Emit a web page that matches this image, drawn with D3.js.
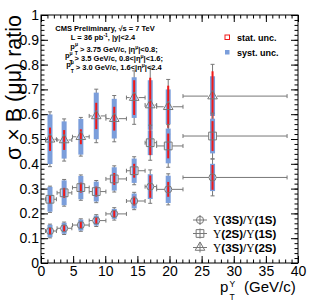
<!DOCTYPE html>
<html>
<head>
<meta charset="utf-8">
<script src="https://cdn.jsdelivr.net/npm/d3@7"></script>
<style>
body { margin: 0; background: #fff; }
svg { display: block; font-family: "Liberation Sans", Arial, sans-serif; }
</style>
</head>
<body>
<script>
// pT bins (GeV/c): marker position and bin edges
const ptCenter = [1.4, 3.6, 6.2, 8.6, 11.4, 14.5, 17.0, 19.8, 26.7];
const ptLow    = [0.7, 2.5, 4.9, 7.5, 10.1, 13.3, 16.2, 18.0, 22.1];
const ptHigh   = [2.4, 4.8, 7.5, 10.1, 13.3, 16.2, 18.0, 22.1, 38.3];

// Y(3S)/Y(1S)
const ratio31 = [0.129, 0.140, 0.153, 0.171, 0.198, 0.250, 0.308, 0.297, 0.345];
const stat31  = [0.012, 0.012, 0.012, 0.013, 0.015, 0.018, 0.045, 0.030, 0.050];
const syst31  = [0.025, 0.022, 0.022, 0.020, 0.020, 0.030, 0.050, 0.055, 0.055];
// Y(2S)/Y(1S)
const ratio21 = [0.257, 0.283, 0.304, 0.288, 0.339, 0.372, 0.485, 0.472, 0.512];
const stat21  = [0.017, 0.020, 0.020, 0.020, 0.024, 0.028, 0.050, 0.050, 0.060];
const syst21  = [0.050, 0.050, 0.047, 0.040, 0.047, 0.049, 0.050, 0.070, 0.070];
// Y(3S)/Y(2S)
const ratio32 = [0.499, 0.496, 0.509, 0.593, 0.582, 0.667, 0.637, 0.630, 0.673];
const stat32  = [0.047, 0.040, 0.030, 0.053, 0.048, 0.070, 0.110, 0.085, 0.100];
const syst32  = [0.100, 0.075, 0.072, 0.094, 0.080, 0.082, 0.100, 0.070, 0.080];

const xTicks = [0, 5, 10, 15, 20, 25, 30, 35, 40];
const yTicks = [0, 0.1, 0.2, 0.3, 0.4, 0.5, 0.6, 0.7, 0.8, 0.9, 1];

const W = 316, H = 303;
const L = 41, R = 298, T = 15, B = 263;
const grey = "#777";
const blue = "#7b9edb";
const red = "#f01818";

const svg = d3.select("body").append("svg")
    .attr("width", W)
    .attr("height", H);

const x = d3.scaleLinear().domain([0, 40]).range([L, R]);
const y = d3.scaleLinear().domain([0, 1]).range([B, T]);

const xMinor = d3.range(0, 41, 1);
const yMinor = d3.range(0, 51).map(i => i * 0.02);

// axes, ticks pointing inwards on all four sides
function addAxis(axis, tf, major, minor, fmt, pad) {
    svg.append("g").attr("transform", tf)
        .call(axis.tickValues(minor).tickSize(-3.5).tickFormat(""))
        .call(g => g.select(".domain").remove());
    const g = svg.append("g").attr("transform", tf)
        .call(axis.tickValues(major).tickSize(-7).tickFormat(fmt).tickPadding(pad))
        .call(g => g.select(".domain").remove());
    g.selectAll("text").attr("font-size", 14).attr("font-family", "Liberation Sans, Arial, sans-serif");
    return g;
}
addAxis(d3.axisBottom(x), `translate(0,${B})`, xTicks, xMinor, d3.format("d"), 3);
addAxis(d3.axisTop(x), `translate(0,${T})`, xTicks, xMinor, "", 0);
addAxis(d3.axisLeft(y), `translate(${L},0)`, yTicks, yMinor, d => d3.format("")(+d.toFixed(1)), 2);
addAxis(d3.axisRight(y), `translate(${R},0)`, yTicks, yMinor, "", 0);
svg.selectAll(".tick line").attr("stroke", "#000");

svg.append("rect")
    .attr("x", L).attr("y", T)
    .attr("width", R - L).attr("height", B - T)
    .attr("fill", "none").attr("stroke", "#000");

// series
const series = [
    { vals: ratio32, stat: stat32, syst: syst32, shape: d3.symbolTriangle, size: 40, gap: 4.5 },
    { vals: ratio21, stat: stat21, syst: syst21, shape: d3.symbolSquare, size: 60, gap: 4 },
    { vals: ratio31, stat: stat31, syst: syst31, shape: d3.symbolCircle, size: 40, gap: 3.6 },
];

const plot = svg.append("g");
series.forEach(s => {
    const pts = s.vals.map((v, i) => ({
        cx: x(ptCenter[i]), cy: y(v),
        lo: x(ptLow[i]), hi: x(ptHigh[i]),
        st: s.stat[i], sy: s.syst[i], v: v,
        tot: Math.sqrt(s.stat[i] * s.stat[i] + s.syst[i] * s.syst[i])
    }));
    const g = plot.append("g");
    const ln = (x1, y1, x2, y2) => g.append("line")
        .attr("x1", x1).attr("y1", y1).attr("x2", x2).attr("y2", y2)
        .attr("stroke", grey).attr("stroke-width", 1);
    pts.forEach(p => {
        // horizontal bin bar
        ln(p.lo, p.cy, p.cx - s.gap, p.cy);
        ln(p.cx + s.gap, p.cy, p.hi, p.cy);
        ln(p.lo, p.cy - 2, p.lo, p.cy + 2);
        ln(p.hi, p.cy - 2, p.hi, p.cy + 2);
        // total error
        const yt = y(p.v + p.tot), yb = y(p.v - p.tot);
        ln(p.cx, yt, p.cx, p.cy - s.gap);
        ln(p.cx, p.cy + s.gap, p.cx, yb);
        ln(p.cx - 2, yt, p.cx + 2, yt);
        ln(p.cx - 2, yb, p.cx + 2, yb);
    });
    g.selectAll("rect.sys").data(pts).join("rect")
        .attr("x", p => p.cx - 2.5).attr("width", 5)
        .attr("y", p => y(p.v + p.sy)).attr("height", p => y(p.v - p.sy) - y(p.v + p.sy))
        .attr("fill", blue);
    g.selectAll("rect.st").data(pts).join("rect")
        .attr("x", p => p.cx - 1).attr("width", 2)
        .attr("y", p => y(p.v + p.st)).attr("height", p => y(p.v - p.st) - y(p.v + p.st))
        .attr("fill", red);
    g.selectAll("path.mk").data(pts).join("path")
        .attr("transform", p => `translate(${p.cx},${p.cy})`)
        .attr("d", d3.symbol().type(s.shape).size(s.size)())
        .attr("fill", "none").attr("stroke", grey).attr("stroke-width", 1);
});

// axis titles
svg.append("text")
    .attr("transform", "translate(20.5,15) rotate(-90)")
    .attr("text-anchor", "end")
    .attr("font-size", 21.5)
    .text("σ × B (μμ) ratio");

const xt = svg.append("g").attr("font-size", 15);
xt.append("text").attr("x", 220).attr("y", 292).text("p");
xt.append("text").attr("x", 229.5).attr("y", 287).attr("font-size", 8.5).text("Υ");
xt.append("text").attr("x", 229.5).attr("y", 300).attr("font-size", 8.5).text("T");
xt.append("text").attr("x", 244).attr("y", 292).text("(GeV/c)");

// header text
const hdr = svg.append("g").attr("font-size", 7.5).attr("font-weight", "bold").attr("text-anchor", "middle");
const headerLines = [
    { cx: 105, by: 31, parts: [["CMS Preliminary, √s = 7 TeV"]] },
    { cx: 103, by: 40, parts: [["L = 36 pb"], ["-1", "sup"], [",  |y|<2.4"]] },
    { cx: 114, by: 49, parts: [["p"], ["μ", "sup"], ["T", "sub"], [" > 3.75 GeV/c, |η"], ["μ", "sup"], ["|<0.8;"]] },
    { cx: 114, by: 58, parts: [["p"], ["μ", "sup"], ["T", "sub"], [" > 3.5 GeV/c, 0.8<|η"], ["μ", "sup"], ["|<1.6;"]] },
    { cx: 114, by: 67, parts: [["p"], ["μ", "sup"], ["T", "sub"], [" > 3.0 GeV/c, 1.6<|η"], ["μ", "sup"], ["|<2.4"]] },
];
headerLines.forEach(h => {
    const t = hdr.append("text").attr("x", h.cx).attr("y", h.by);
    let shift = 0;
    h.parts.forEach(([str, kind]) => {
        const ts = t.append("tspan").text(str);
        if (kind === "sup") {
            ts.attr("font-size", 5).attr("dy", -3 - shift); shift = -3;
        } else if (kind === "sub") {
            ts.attr("font-size", 5).attr("dx", -3.2).attr("dy", 5.5 - shift); shift = 2.5;
        } else if (shift !== 0) {
            ts.attr("dy", -shift); shift = 0;
        }
    });
});

// top-right legend
svg.append("rect").attr("x", 225).attr("y", 35).attr("width", 4.5).attr("height", 4.5)
    .attr("fill", "none").attr("stroke", red);
svg.append("rect").attr("x", 225).attr("y", 50).attr("width", 4.5).attr("height", 4.5)
    .attr("fill", blue);
svg.append("text").attr("x", 237).attr("y", 40.5).attr("font-size", 9).attr("font-weight", "bold").text("stat. unc.");
svg.append("text").attr("x", 237).attr("y", 55.5).attr("font-size", 9).attr("font-weight", "bold").text("syst. unc.");

// bottom-right legend
const legendNames = [["3S", "1S"], ["2S", "1S"], ["3S", "2S"]];
const legendShapes = [series[2], series[1], series[0]];
const legendY = [220, 233.5, 247.5];
legendNames.forEach((nm, i) => {
    const cy = legendY[i], s = legendShapes[i];
    const lg = svg.append("g");
    lg.append("line").attr("x1", 193).attr("x2", 207).attr("y1", cy).attr("y2", cy).attr("stroke", grey);
    lg.append("line").attr("x1", 200).attr("x2", 200).attr("y1", cy - 5).attr("y2", cy + 5).attr("stroke", grey);
    lg.append("path").attr("transform", `translate(200,${cy})`)
        .attr("d", d3.symbol().type(s.shape).size(s.size)())
        .attr("fill", "none").attr("stroke", grey);
    const t = lg.append("text").attr("x", 213).attr("y", cy + 4).attr("font-size", 11.5);
    t.append("tspan").attr("font-family", "Liberation Serif, serif").text("Υ");
    t.append("tspan").attr("font-weight", "bold").text(`(${nm[0]})`);
    t.append("tspan").text("/");
    t.append("tspan").attr("font-family", "Liberation Serif, serif").text("Υ");
    t.append("tspan").attr("font-weight", "bold").text(`(${nm[1]})`);
});
</script>
</body>
</html>
